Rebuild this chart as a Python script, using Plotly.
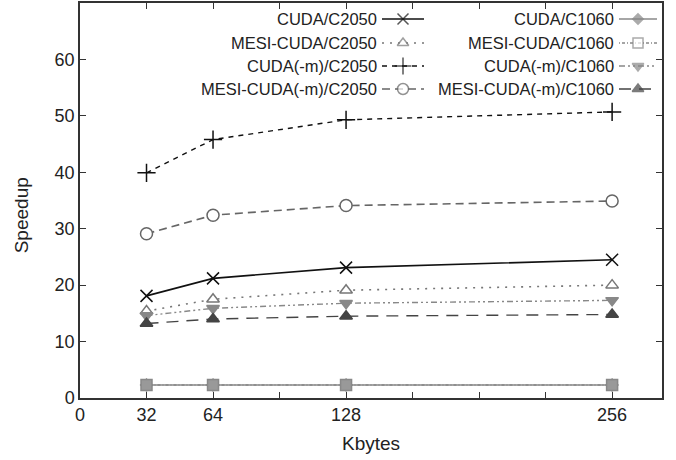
import plotly.graph_objects as go

kbytes = [32, 64, 128, 256]
cuda_c2050 = [18.1, 21.2, 23.1, 24.5]
mesi_cuda_c2050 = [15.4, 17.5, 19.1, 20.0]
cuda_m_c2050 = [39.9, 45.8, 49.3, 50.7]
mesi_cuda_m_c2050 = [29.1, 32.4, 34.1, 34.9]
cuda_c1060 = [2.3, 2.3, 2.3, 2.3]
mesi_cuda_c1060 = [2.3, 2.3, 2.3, 2.3]
cuda_m_c1060 = [14.6, 15.9, 16.8, 17.3]
mesi_cuda_m_c1060 = [13.2, 14.0, 14.5, 14.8]

x_tickvals = [0, 32, 64, 96, 128, 160, 192, 224, 256]
x_ticktext = ["0", "32", "64", "", "128", "", "", "", "256"]
y_tickvals = [0, 10, 20, 30, 40, 50, 60, 70]
y_ticktext = ["0", "10", "20", "30", "40", "50", "60", ""]

FONT = "Liberation Sans, Arial, sans-serif"
TXT = "#222222"

# name, values, color, dash, symbol, size, fill, line width, key column, key row
series = [
    ("CUDA/C2050", cuda_c2050, "#111111", "solid", "x-thin", 12, "#111111", 1.6, 0, 0),
    ("MESI-CUDA/C2050", mesi_cuda_c2050, "#777777", "2px,6px", "triangle-up", 11, "white", 1.6, 0, 1),
    ("CUDA(-m)/C2050", cuda_m_c2050, "#111111", "5px,5px", "cross-thin", 13, "#111111", 1.4, 0, 2),
    ("MESI-CUDA(-m)/C2050", mesi_cuda_m_c2050, "#666666", "8px,5px", "circle", 12, "white", 1.6, 0, 3),
    ("CUDA/C1060", cuda_c1060, "#888888", "solid", "diamond", 9, "#888888", 1.4, 1, 0),
    ("MESI-CUDA/C1060", mesi_cuda_c1060, "#888888", "1px,2px,3px,2px", "square", 11, "#999999", 1.4, 1, 1),
    ("CUDA(-m)/C1060", cuda_m_c1060, "#888888", "6px,3px,2px,3px,2px,3px", "triangle-down", 11, "#888888", 1.4, 1, 2),
    ("MESI-CUDA(-m)/C1060", mesi_cuda_m_c1060, "#444444", "12px,8px", "triangle-up", 11, "#444444", 1.4, 1, 3),
]

fig = go.Figure()

for name, vals, color, dash, sym, size, fill, lw, col, row in series:
    fig.add_trace(go.Scatter(
        x=kbytes, y=vals, mode="lines+markers", name=name, showlegend=False,
        line=dict(color=color, dash=dash, width=lw),
        marker=dict(symbol=sym, size=size, color=fill, line=dict(color=color, width=1.5)),
    ))

# gnuplot-style key: text right-aligned, sample line to its right (pixel overlay axes)
row_y = [19, 43, 66, 89]
col_text_right = [379, 616]
col_sample = [(382, 424), (619, 657)]
for name, vals, color, dash, sym, size, fill, lw, col, row in series:
    x0, x1 = col_sample[col]
    yy = row_y[row]
    kfill = "white" if sym == "square" else fill
    fig.add_trace(go.Scatter(
        x=[x0, (x0 + x1) / 2, x1], y=[yy, yy, yy], mode="lines+markers",
        xaxis="x2", yaxis="y2", showlegend=False, hoverinfo="skip",
        line=dict(color=color, dash=dash, width=lw),
        marker=dict(symbol=sym, size=[0, size - 1, 0], color=kfill, line=dict(color=color, width=1.5)),
    ))
    fig.add_annotation(
        x=col_text_right[col], y=yy, xref="x2", yref="y2", text=name,
        showarrow=False, xanchor="right", yanchor="middle",
        font=dict(family=FONT, size=16.5, color=TXT),
    )

axis_common = dict(
    showgrid=False, zeroline=False, showline=True, linecolor="#333333", linewidth=1.5,
    mirror="ticks", ticks="inside", ticklen=6, tickwidth=1.2, tickcolor="#333333",
    tickfont=dict(family=FONT, size=18, color=TXT), automargin=False,
)

fig.add_annotation(text="Speedup", xref="paper", yref="paper", x=-0.1, y=0.462,
                   textangle=-90, showarrow=False, xanchor="center", yanchor="middle",
                   font=dict(family=FONT, size=19, color=TXT))
fig.add_annotation(text="Kbytes", xref="paper", yref="paper", x=0.5, y=-0.114,
                   showarrow=False, xanchor="center", yanchor="middle",
                   font=dict(family=FONT, size=19, color=TXT))

fig.update_layout(
    width=676, height=460,
    margin=dict(l=80, r=14, t=3, b=62),
    paper_bgcolor="white", plot_bgcolor="white",
    xaxis=dict(range=[0, 280], tickvals=x_tickvals, ticktext=x_ticktext, **axis_common),
    yaxis=dict(range=[0, 70], tickvals=y_tickvals, ticktext=y_ticktext, **axis_common),
    xaxis2=dict(overlaying="x", range=[80, 662], visible=False, fixedrange=True),
    yaxis2=dict(overlaying="y", range=[398, 3], visible=False, fixedrange=True),
    showlegend=False,
)

fig.write_html("out.html", config={"displayModeBar": False},
               post_script="document.body.style.margin='0';")
